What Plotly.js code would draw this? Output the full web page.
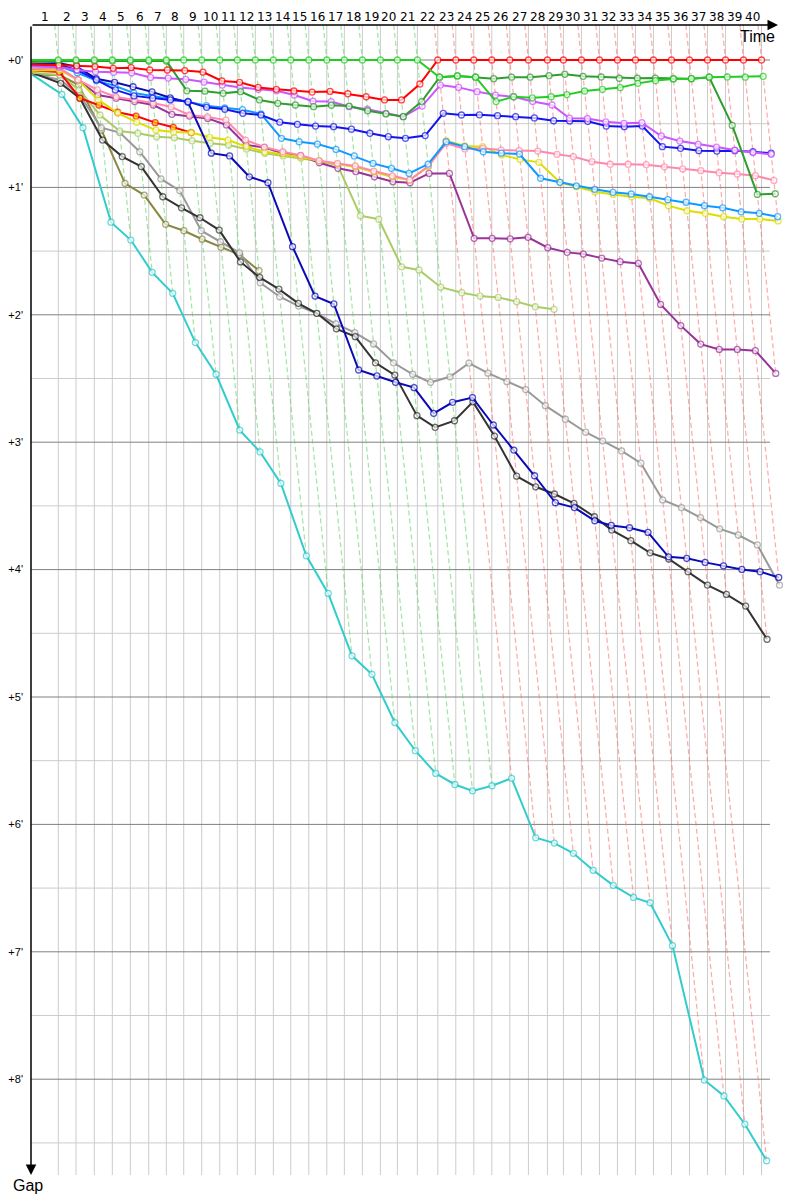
<!DOCTYPE html>
<html><head><meta charset="utf-8">
<script src="https://cdn.plot.ly/plotly-3.0.1.min.js"></script>
<style>html,body{margin:0;padding:0;background:#fff}#chart{width:800px;height:1200px}</style>
</head><body><div id="chart"></div>
<script>
// Leader lap times (s), laps 1..40
const leaderLapTimes = [125.1,81.1,83.8,82.5,82.5,84.3,80.6,79.7,82.5,82.5,80.6,82.5,82.5,79.7,82.5,82.5,80.6,82.5,82.5,77.9,91.6,93.4,82.5,82.5,82.5,82.5,85.2,87.0,73.3,82.5,82.5,82.5,82.5,82.5,82.5,82.5,82.5,82.5,82.5,82.5];
const lapLabels = Array.from({length:40},(_,i)=>String(i+1));
const gapTicks = [0,60,120,180,240,300,360,420,480];
const gapTickText = ["+0'","+1'","+2'","+3'","+4'","+5'","+6'","+7'","+8'"];

// Gap to leader (s) at end of lap 0,1,2,...
const gapGreen = [0,0,0,0,0,0,0,0,0,0,0,0,0,0,0,0,0,0,0,0,0,0,8.1,7.5,8.1,19.6,17.3,17.8,17.3,16.3,14.6,13.8,13.0,11.0,9.7,8.9,8.8,8.1,8.0,8.1,7.7];
const gapRed = [2,2.4,2.7,3.1,3.9,3.6,4.7,4.7,5.0,5.7,9.9,10.5,12.9,13.8,14.6,15.1,14.8,15.9,17.3,18.8,18.8,11.3,0,0,0,0,0,0,0,0,0,0,0,0,0,0,0,0,0,0,0];
const gapDarkGreen = [1,0.5,0.5,0.5,0.5,0.5,0.5,0.5,14.5,14.7,15.7,14.9,18.8,20.4,21.2,22.0,21.3,21.7,23.9,25.4,26.7,19.6,8.1,7.5,8.1,8.8,8.1,8.1,7.4,6.7,7.7,8.0,8.6,8.6,8.5,8.8,8.8,8.1,30.8,63.3,63.0];
const gapViolet = [3,3.3,4.7,5.5,5.8,6.0,8.2,8.5,9.1,10.4,11.8,12.9,13.8,14.5,16.5,19.4,19.6,22.0,23.2,25.1,26.7,21.7,11.8,12.9,14.9,16.5,17.3,19.5,21.2,27.4,27.6,29.1,29.8,29.5,35.8,38.2,39.7,41.0,42.4,43.6,44.4];
const gapBlue = [2.5,2.4,4.7,9.4,14.1,16.9,18.0,18.8,19.6,22.3,23.2,25.1,25.9,29.3,30.3,31.1,31.4,32.6,34.5,36.1,36.9,35.6,25.1,25.9,25.8,26.2,26.7,27.3,28.6,28.7,28.9,31.1,31.4,31.1,40.8,41.6,42.7,42.9,42.7,43.2,43.9];
const gapNavy = [2,1.4,3.1,8.8,10.5,12.6,15.0,17.8,19.9,43.9,45.2,55.0,57.8,87.9,111.2,114.9,146.0,148.8,151.8,154.3,166.4,161.2,159.0,171.9,183.7,195.8,208.5,210.8,217.0,219.2,220.3,222.5,234.0,234.7,236.6,238.2,239.9,241.0,243.7];
const gapSky = [3,2.8,6.0,9.7,12.2,15.5,17.0,18.4,19.6,21.5,22.5,23.4,25.4,36.9,38.5,39.6,42.1,45.2,48.7,51.0,53.4,49.0,38.5,40.8,43.2,43.9,44.3,55.7,57.6,59.3,60.9,62.3,63.1,64.4,65.8,67.0,68.6,69.6,71.5,72.2,73.8];
const gapPink = [4,3.8,9.4,14.1,17.4,18.8,20.3,22.1,25.9,26.8,28.3,37.7,41.0,43.2,44.9,47.4,48.7,49.9,52.3,54.6,56.5,49.9,39.2,41.9,41.6,42.4,42.7,42.9,44.4,45.5,47.9,49.1,49.1,49.3,50.3,51.3,52.1,53.1,53.7,54.5,56.7];
const gapYellow = [5,4.7,9.4,18.8,25.0,29.3,33.0,33.9,34.2,36.4,37.7,40.8,43.2,44.3,45.7,47.6,49.0,50.4,52.8,55.1,56.5,50.3,38.0,40.5,40.8,44.7,46.8,48.2,57.6,59.7,62.0,63.3,64.4,65.1,68.6,71.0,72.2,73.8,74.9,74.9,75.8];
const gapRedYellow = [5,5.7,18.0,21.2,24.6,26.4,29.5,31.7,34.2];
const gapPurple = [4.5,3.8,9.4,16.5,18.0,19.6,21.2,25.6,26.4,27.5,30.6,40.0,41.2,43.9,45.1,48.4,51.0,52.6,55.0,57.3,57.8,53.4,53.4,84.0,84.0,84.2,83.5,88.4,90.6,91.4,93.3,95.0,95.8,115.1,125.1,133.8,136.3,136.3,136.9,147.6];
const gapLightOlive = [6,7.1,14.1,25.9,33.4,34.5,36.1,36.6,38.0,39.2,40.0,41.9,43.9,45.2,46.2,47.6,49.5,73.3,75.0,97.4,98.9,107.0,109.6,111.2,111.8,113.8,116.2,117.4];
const gapBlack = [6,11.0,18.0,37.7,45.5,50.2,64.4,69.6,74.3,80.1,95.1,102.4,107.9,114.6,119.3,126.6,130.3,142.6,148.4,167.5,173.0,169.9,161.0,177.1,196.0,201.0,204.4,208.8,215.1,221.4,226.4,232.1,235.0,241.0,247.3,251.7,257.2,272.8];
const gapGrey = [6.5,9.4,16.5,31.9,34.2,43.2,56.0,61.5,80.4,85.6,90.8,104.9,111.5,115.9,119.3,124.3,128.4,133.7,142.6,148.0,151.8,149.2,142.8,147.5,151.5,155.2,162.8,169.2,175.3,179.4,184.1,189.9,207.2,210.8,215.5,220.8,223.7,228.4,247.3];
const gapOlive = [7,7.1,11.8,33.0,58.1,63.6,77.4,80.4,84.4,88.2,91.8,99.2];
const gapCyan = [7,16.2,31.9,76.4,84.8,100.0,109.9,133.1,148.0,174.3,184.6,199.4,233.5,251.2,280.6,289.3,312.1,325.3,336.0,341.2,344.2,341.8,338.3,366.3,368.8,373.6,381.6,388.7,394.4,396.9,417.1,480.4,487.9,501.2,518.4];

const series = [
  {gaps: gapCyan, color:'#33CCCC'},
  {gaps: gapOlive, color:'#888844'},
  {gaps: gapGrey, color:'#999999'},
  {gaps: gapBlack, color:'#333333'},
  {gaps: gapLightOlive, color:'#AACC66'},
  {gaps: gapPurple, color:'#993399'},
  {gaps: gapRedYellow, color:'#FF0000', fill:'#FFDD00'},
  {gaps: gapYellow, color:'#DDDD00'},
  {gaps: gapPink, color:'#FF88AA'},
  {gaps: gapSky, color:'#1199FF'},
  {gaps: gapNavy, color:'#0A0AB8'},
  {gaps: gapBlue, color:'#1414EE'},
  {gaps: gapViolet, color:'#CC55FF'},
  {gaps: gapDarkGreen, color:'#2E9E2E'},
  {gaps: gapRed, color:'#FF0000'},
  {gaps: gapGreen, color:'#22CC22'}
];

// geometry
const W=800,H=1200,L=31,R=15,T=25,B=25;
const pxPerSecX = 0.2183, pxPerSecY = 127.4/60;
const plotW = W-L-R, plotH = H-T-B;
const yTop = -(60-T)/pxPerSecY;
const yBot = yTop + plotH/pxPerSecY;
const xMax = plotW/pxPerSecX;
const pxToX = px => (px-L)/pxPerSecX;

const cum=[0];
leaderLapTimes.forEach(t=>cum.push(cum[cum.length-1]+t));

const traces=[];
// lap lines
const lapGreenX=[],lapGreenY=[],lapRedX=[],lapRedY=[];
for(let n=1;n<cum.length;n++){
  let maxG=0;
  series.forEach(s=>{ if(s.gaps.length>n && s.gaps[n]>maxG) maxG=s.gaps[n]; });
  const greenLeads = gapGreen[n]===0;
  const X = greenLeads?lapGreenX:lapRedX, Y = greenLeads?lapGreenY:lapRedY;
  X.push(cum[n]+yTop, cum[n]+maxG, null); Y.push(yTop, maxG, null);
}
traces.push({x:lapGreenX,y:lapGreenY,mode:'lines',line:{color:'rgba(100,210,100,0.6)',width:1.2,dash:'5px,3px'},hoverinfo:'skip'});
traces.push({x:lapRedX,y:lapRedY,mode:'lines',line:{color:'rgba(255,110,110,0.6)',width:1.2,dash:'5px,3px'},hoverinfo:'skip'});

series.forEach(s=>{
  const x=s.gaps.map((g,i)=>cum[i]+g);
  traces.push({x:x,y:s.gaps,mode:'lines+markers',
    line:{color:s.color,width:2},
    marker:{size:s.gaps.map((g,i)=>i===0?0:6),color:s.fill||'#FFFFFF',line:{color:s.color,width:1.3}},
    hoverinfo:'skip'});
});

const shapes=[];
for(let n=1;n<cum.length;n++){
  shapes.push({type:'line',xref:'x',yref:'paper',x0:cum[n],x1:cum[n],y0:0,y1:1,line:{color:'#CCCCCC',width:1},layer:'below'});
}
for(let v=0;v<=510;v+=30){
  shapes.push({type:'line',xref:'x',yref:'y',x0:0,x1:pxToX(770),y0:v,y1:v,line:{color:(v%60===0)?'#808080':'#CCCCCC',width:1},layer:'below'});
}

const annotations=[];
for(let n=1;n<cum.length;n++){
  annotations.push({xref:'x',yref:'y domain',x:(cum[n-1]+cum[n])/2,y:1,yanchor:'bottom',yshift:-1,text:lapLabels[n-1],showarrow:false,font:{family:'DejaVu Sans, Verdana, sans-serif',size:12,color:'#000'}});
}
// axis arrows
annotations.push({xref:'x domain',yref:'y domain',x:(778-L)/plotW,y:1,axref:'x domain',ayref:'y domain',ax:0,ay:1,text:'',showarrow:true,arrowhead:2,arrowsize:1.4,arrowwidth:1.5,arrowcolor:'#000',standoff:0,startstandoff:0});
annotations.push({xref:'x domain',yref:'y domain',x:0,y:0,axref:'x domain',ayref:'y domain',ax:0,ay:1,text:'',showarrow:true,arrowhead:2,arrowsize:1.4,arrowwidth:1.5,arrowcolor:'#000',standoff:0,startstandoff:0});
annotations.push({xref:'x domain',yref:'y domain',x:(777-L)/plotW,y:1,xanchor:'right',yanchor:'top',yshift:-1,text:'Time',showarrow:false,font:{family:'Liberation Sans, Arial, sans-serif',size:16,color:'#000'}});
annotations.push({xref:'x domain',yref:'y domain',x:(11-L)/plotW,y:0,xanchor:'left',yanchor:'top',yshift:0,text:'Gap',showarrow:false,font:{family:'Liberation Sans, Arial, sans-serif',size:16,color:'#000'}});

const layout={
  width:W,height:H,margin:{l:L,r:R,t:T,b:B,pad:0},
  paper_bgcolor:'#FFFFFF',plot_bgcolor:'#FFFFFF',showlegend:false,
  xaxis:{range:[0,xMax],showgrid:false,zeroline:false,showticklabels:false,showline:false,ticks:'',fixedrange:true},
  yaxis:{range:[yBot,yTop],showgrid:false,zeroline:false,showline:false,ticks:'',tickvals:gapTicks,ticktext:gapTickText,ticklabelstandoff:7,tickfont:{family:'Liberation Sans, Arial, sans-serif',size:11,color:'#000'},fixedrange:true},
  shapes:shapes,annotations:annotations,hovermode:false
};
Plotly.newPlot('chart',traces,layout,{displayModeBar:false,staticPlot:true});
</script></body></html>
